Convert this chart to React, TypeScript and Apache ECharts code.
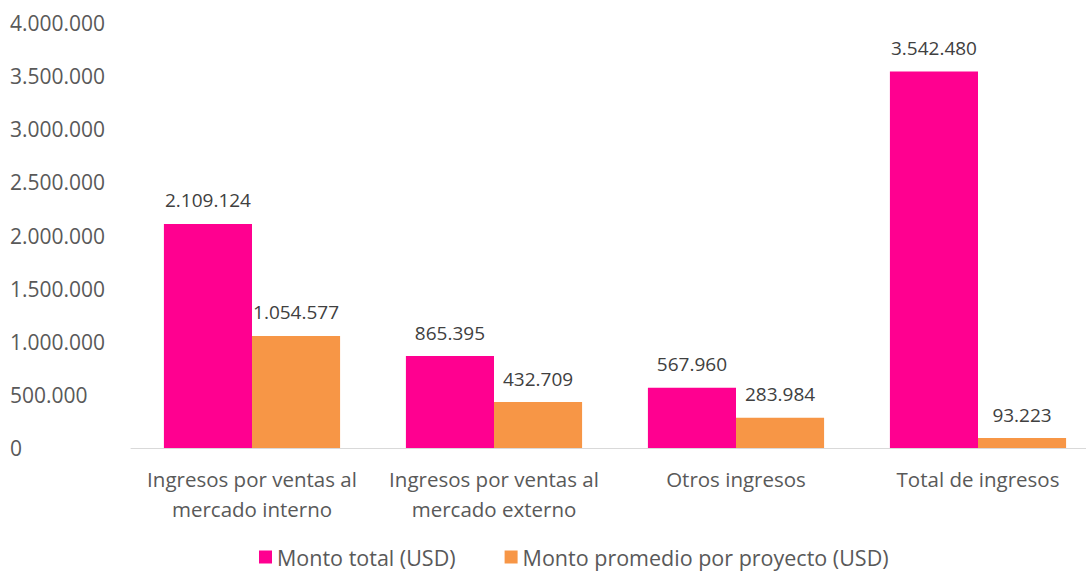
import React, { useEffect, useRef } from "react";
import * as echarts from "echarts";

const categories = [
  "Ingresos por ventas al\nmercado interno",
  "Ingresos por ventas al\nmercado externo",
  "Otros ingresos",
  "Total de ingresos",
];
const montoTotal = [2109124, 865395, 567960, 3542480];
const montoPromedio = [1054577, 432709, 283984, 93223];
const seriesNames = ["Monto total (USD)", "Monto promedio por proyecto (USD)"];

const fmt = (v: number) => String(Math.round(v)).replace(/\B(?=(\d{3})+(?!\d))/g, ".");

const FONT = "'Open Sans', 'Noto Sans', sans-serif";
const TXT = "#595959";

export default function App() {
  const ref = useRef<HTMLDivElement>(null);
  useEffect(() => {
    document.body.style.overflow = "hidden";
    const chart = echarts.init(ref.current!, null, { renderer: "svg" });
    const label = {
      show: true,
      position: "top" as const,
      distance: 14,
      color: "#404040",
      fontSize: 19,
      fontFamily: FONT,
      formatter: (p: any) => fmt(p.value),
    };
    chart.setOption({
      animation: false,
      backgroundColor: "#ffffff",
      textStyle: { fontFamily: FONT },
      grid: {
        left: 131,
        width: 968,
        top: 23,
        height: 425,
        containLabel: false,
        outerBoundsMode: "none",
      },
      legend: {
        top: 541,
        left: 254,
        itemWidth: 13,
        itemHeight: 13,
        itemGap: 49,
        icon: "rect",
        textStyle: { color: TXT, fontSize: 21.5, fontFamily: FONT },
        data: seriesNames,
      },
      xAxis: {
        type: "category",
        data: categories,
        axisLine: { show: true, lineStyle: { color: "#d9d9d9", width: 1 } },
        axisTick: { show: false },
        axisLabel: { color: TXT, fontSize: 20.5, fontFamily: FONT, margin: 16, lineHeight: 30, interval: 0 },
      },
      yAxis: {
        type: "value",
        min: 0,
        max: 4000000,
        interval: 500000,
        splitLine: { show: false },
        axisLine: { show: false },
        axisTick: { show: false },
        axisLabel: {
          color: TXT,
          fontSize: 21,
          fontFamily: FONT,
          align: "left",
          margin: 121,
          formatter: (v: number) => fmt(v),
        },
      },
      series: [
        {
          name: seriesNames[0],
          type: "bar",
          data: montoTotal,
          barWidth: "36.4%",
          barGap: "0%",
          itemStyle: { color: "#FF0090" },
          label,
        },
        {
          name: seriesNames[1],
          type: "bar",
          data: montoPromedio,
          barWidth: "36.4%",
          itemStyle: { color: "#F79646" },
          label,
        },
      ],
    });
    return () => chart.dispose();
  }, []);
  return (
    <div
      ref={ref}
      style={{ position: "fixed", left: 0, top: 0, width: 1086, height: 573, background: "#fff" }}
    />
  );
}
